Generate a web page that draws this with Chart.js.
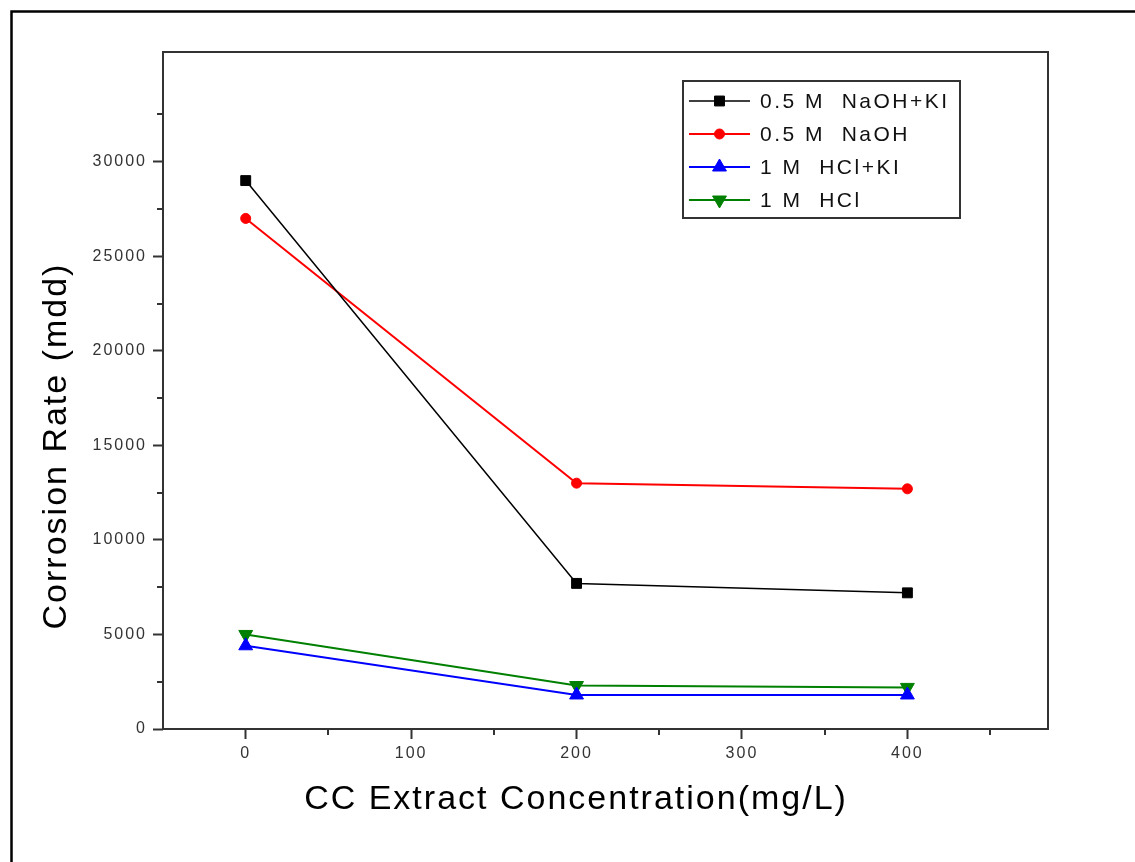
<!DOCTYPE html>
<html><head><meta charset="utf-8">
<script src="https://cdn.jsdelivr.net/npm/chart.js@4"></script>
<style>html,body{margin:0;padding:0;background:#fff;overflow:hidden}#wrap{width:1135px;height:862px;position:relative}</style>
</head><body><div id="wrap"><canvas id="c" width="1135" height="862"></canvas></div>
<script>
// ---- data ----
const concentrations = [0, 200, 400];
const naohKI = [29000, 7700, 7200];
const naoh = [27000, 13000, 12700];
const hclKI = [4400, 1800, 1800];
const hcl = [5000, 2300, 2200];
const seriesLabels = ['0.5 M  NaOH+KI', '0.5 M  NaOH', '1 M  HCl+KI', '1 M  HCl'];
const xTitle = 'CC Extract Concentration(mg/L)';
const yTitle = 'Corrosion Rate (mdd)';
const xMajorTicks = [0, 100, 200, 300, 400];
const xMinorTicks = [50, 150, 250, 350, 450];
const yMajorTicks = [0, 5000, 10000, 15000, 20000, 25000, 30000];
const yMinorTicks = [2500, 7500, 12500, 17500, 22500, 27500, 32500];

const FONT = '"Liberation Sans", Arial, sans-serif';
const toPts = arr => concentrations.map((c, i) => ({x: c, y: arr[i]}));

function ds(label, arr, color, lw, style, radius, rotation) {
  return {
    label, data: toPts(arr), borderColor: color, backgroundColor: color,
    borderWidth: lw, pointStyle: style, pointRadius: radius, pointRotation: rotation || 0,
    pointBorderWidth: 1, pointBackgroundColor: color, pointBorderColor: color,
    pointHoverRadius: radius, tension: 0, fill: false
  };
}

const framePlugin = {
  id: 'frame',
  beforeDraw(chart) {
    const ctx = chart.ctx;
    ctx.save();
    ctx.fillStyle = '#fff';
    ctx.fillRect(0, 0, chart.width, chart.height);
    ctx.restore();
    ctx.letterSpacing = '2px';
  },
  afterDraw(chart) {
    const ctx = chart.ctx;
    ctx.letterSpacing = '0px';
    const ca = chart.chartArea;
    const xs = chart.scales.x, ys = chart.scales.y;
    ctx.save();
    // outer frame
    ctx.strokeStyle = '#000';
    ctx.lineWidth = 2.5;
    ctx.strokeRect(11.5, 11.5, 1300, 1000);
    // plot box
    ctx.strokeStyle = '#333';
    ctx.lineWidth = 2;
    ctx.strokeRect(ca.left, ca.top, ca.right - ca.left, ca.bottom - ca.top);
    // minor ticks
    ctx.beginPath();
    xMinorTicks.forEach(v => {
      const p = Math.round(xs.getPixelForValue(v));
      ctx.moveTo(p, ca.bottom); ctx.lineTo(p, ca.bottom + 6);
    });
    yMinorTicks.forEach(v => {
      const p = Math.round(ys.getPixelForValue(v));
      ctx.moveTo(ca.left - 6, p); ctx.lineTo(ca.left, p);
    });
    ctx.stroke();
    // axis titles
    ctx.fillStyle = '#000';
    ctx.font = '34px ' + FONT;
    ctx.letterSpacing = '2px';
    ctx.textAlign = 'center';
    ctx.textBaseline = 'middle';
    ctx.fillText(xTitle, 576, 800);
    ctx.save();
    ctx.translate(57, 446);
    ctx.rotate(-Math.PI / 2);
    ctx.fillText(yTitle, 0, 0);
    ctx.restore();
    // legend
    ctx.strokeStyle = '#333';
    ctx.lineWidth = 2;
    ctx.strokeRect(683, 81, 277, 137);
    ctx.font = '21px ' + FONT;
    ctx.letterSpacing = '2.5px';
    ctx.textAlign = 'left';
    chart.data.datasets.forEach((d, i) => {
      const y = 101 + i * 33;
      ctx.strokeStyle = d.borderColor;
      ctx.lineWidth = d.borderWidth;
      ctx.beginPath(); ctx.moveTo(689, y); ctx.lineTo(750, y); ctx.stroke();
      ctx.fillStyle = d.pointBackgroundColor;
      ctx.strokeStyle = d.pointBorderColor;
      ctx.lineWidth = 1;
      Chart.helpers.drawPoint(ctx, {pointStyle: d.pointStyle, rotation: d.pointRotation, radius: d.pointRadius, borderWidth: 1}, 719.5, y);
      ctx.fillStyle = '#111';
      ctx.fillText(d.label, 760, y + 1);
    });
    ctx.restore();
    ctx.letterSpacing = '0px';
  }
};

const tickFont = {family: FONT, size: 16};
const plain = v => String(v);

new Chart(document.getElementById('c'), {
  type: 'line',
  data: {
    datasets: [
      ds(seriesLabels[0], naohKI, '#000000', 1.5, 'rect', 7),
      ds(seriesLabels[1], naoh, '#ff0000', 2, 'circle', 5),
      ds(seriesLabels[2], hclKI, '#0000ff', 2, 'triangle', 8),
      ds(seriesLabels[3], hcl, '#008000', 2, 'triangle', 8, 180)
    ]
  },
  options: {
    responsive: false,
    animation: false,
    devicePixelRatio: 1,
    layout: {padding: {left: 0, top: 52, right: 87, bottom: 0}},
    plugins: {legend: {display: false}, tooltip: {enabled: false}, title: {display: false}},
    scales: {
      x: {
        type: 'linear', min: -50, max: 485,
        afterBuildTicks: s => { s.ticks = xMajorTicks.map(v => ({value: v})); },
        afterFit: s => { s.height = 133; },
        ticks: {font: tickFont, color: '#333', padding: 5, maxRotation: 0, autoSkip: false, callback: plain},
        grid: {drawOnChartArea: false, drawTicks: true, tickLength: 10, tickWidth: 2, tickColor: '#333'},
        border: {display: false}
      },
      y: {
        type: 'linear', min: 0, max: 35800,
        afterBuildTicks: s => { s.ticks = yMajorTicks.map(v => ({value: v})); },
        afterFit: s => { s.width = 163; },
        ticks: {font: tickFont, color: '#333', padding: 6, autoSkip: false, callback: plain},
        grid: {drawOnChartArea: false, drawTicks: true, tickLength: 10, tickWidth: 2, tickColor: '#333'},
        border: {display: false}
      }
    }
  },
  plugins: [framePlugin]
});
</script>
</body></html>
